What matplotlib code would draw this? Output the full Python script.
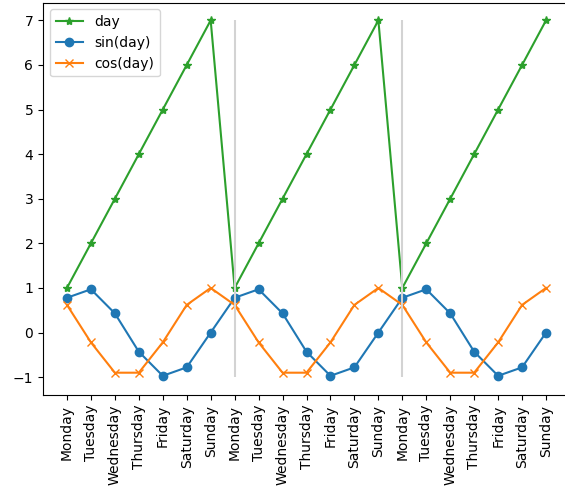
import matplotlib
matplotlib.use("Agg")
import matplotlib.pyplot as plt

days = ["Monday", "Tuesday", "Wednesday", "Thursday", "Friday", "Saturday", "Sunday"]
day_vals = [1, 2, 3, 4, 5, 6, 7]
sin_vals = [0.78, 0.97, 0.43, -0.43, -0.97, -0.78, 0.0]
cos_vals = [0.62, -0.22, -0.90, -0.90, -0.22, 0.62, 1.0]
n_weeks = 3
week_breaks = [7, 14]

labels = days * n_weeks
x = list(range(len(labels)))
day_series = day_vals * n_weeks
sin_series = sin_vals * n_weeks
cos_series = cos_vals * n_weeks

fig = plt.figure(figsize=(5.65, 4.97), dpi=100)
ax = fig.add_axes([43 / 565, (497 - 395) / 497, 527 / 565, 392.5 / 497])
ax.plot(x, day_series, marker="*", color="C2", label="day")
ax.plot(x, sin_series, marker="o", color="C0", label="sin(day)")
ax.plot(x, cos_series, marker="x", color="C1", label="cos(day)")
ax.vlines(week_breaks, -1, 7, color="lightgray")
ax.set_xticks(x)
ax.set_xticklabels(labels, rotation=90)
ax.legend(loc="upper left")
fig.savefig("out.png", dpi=100)
